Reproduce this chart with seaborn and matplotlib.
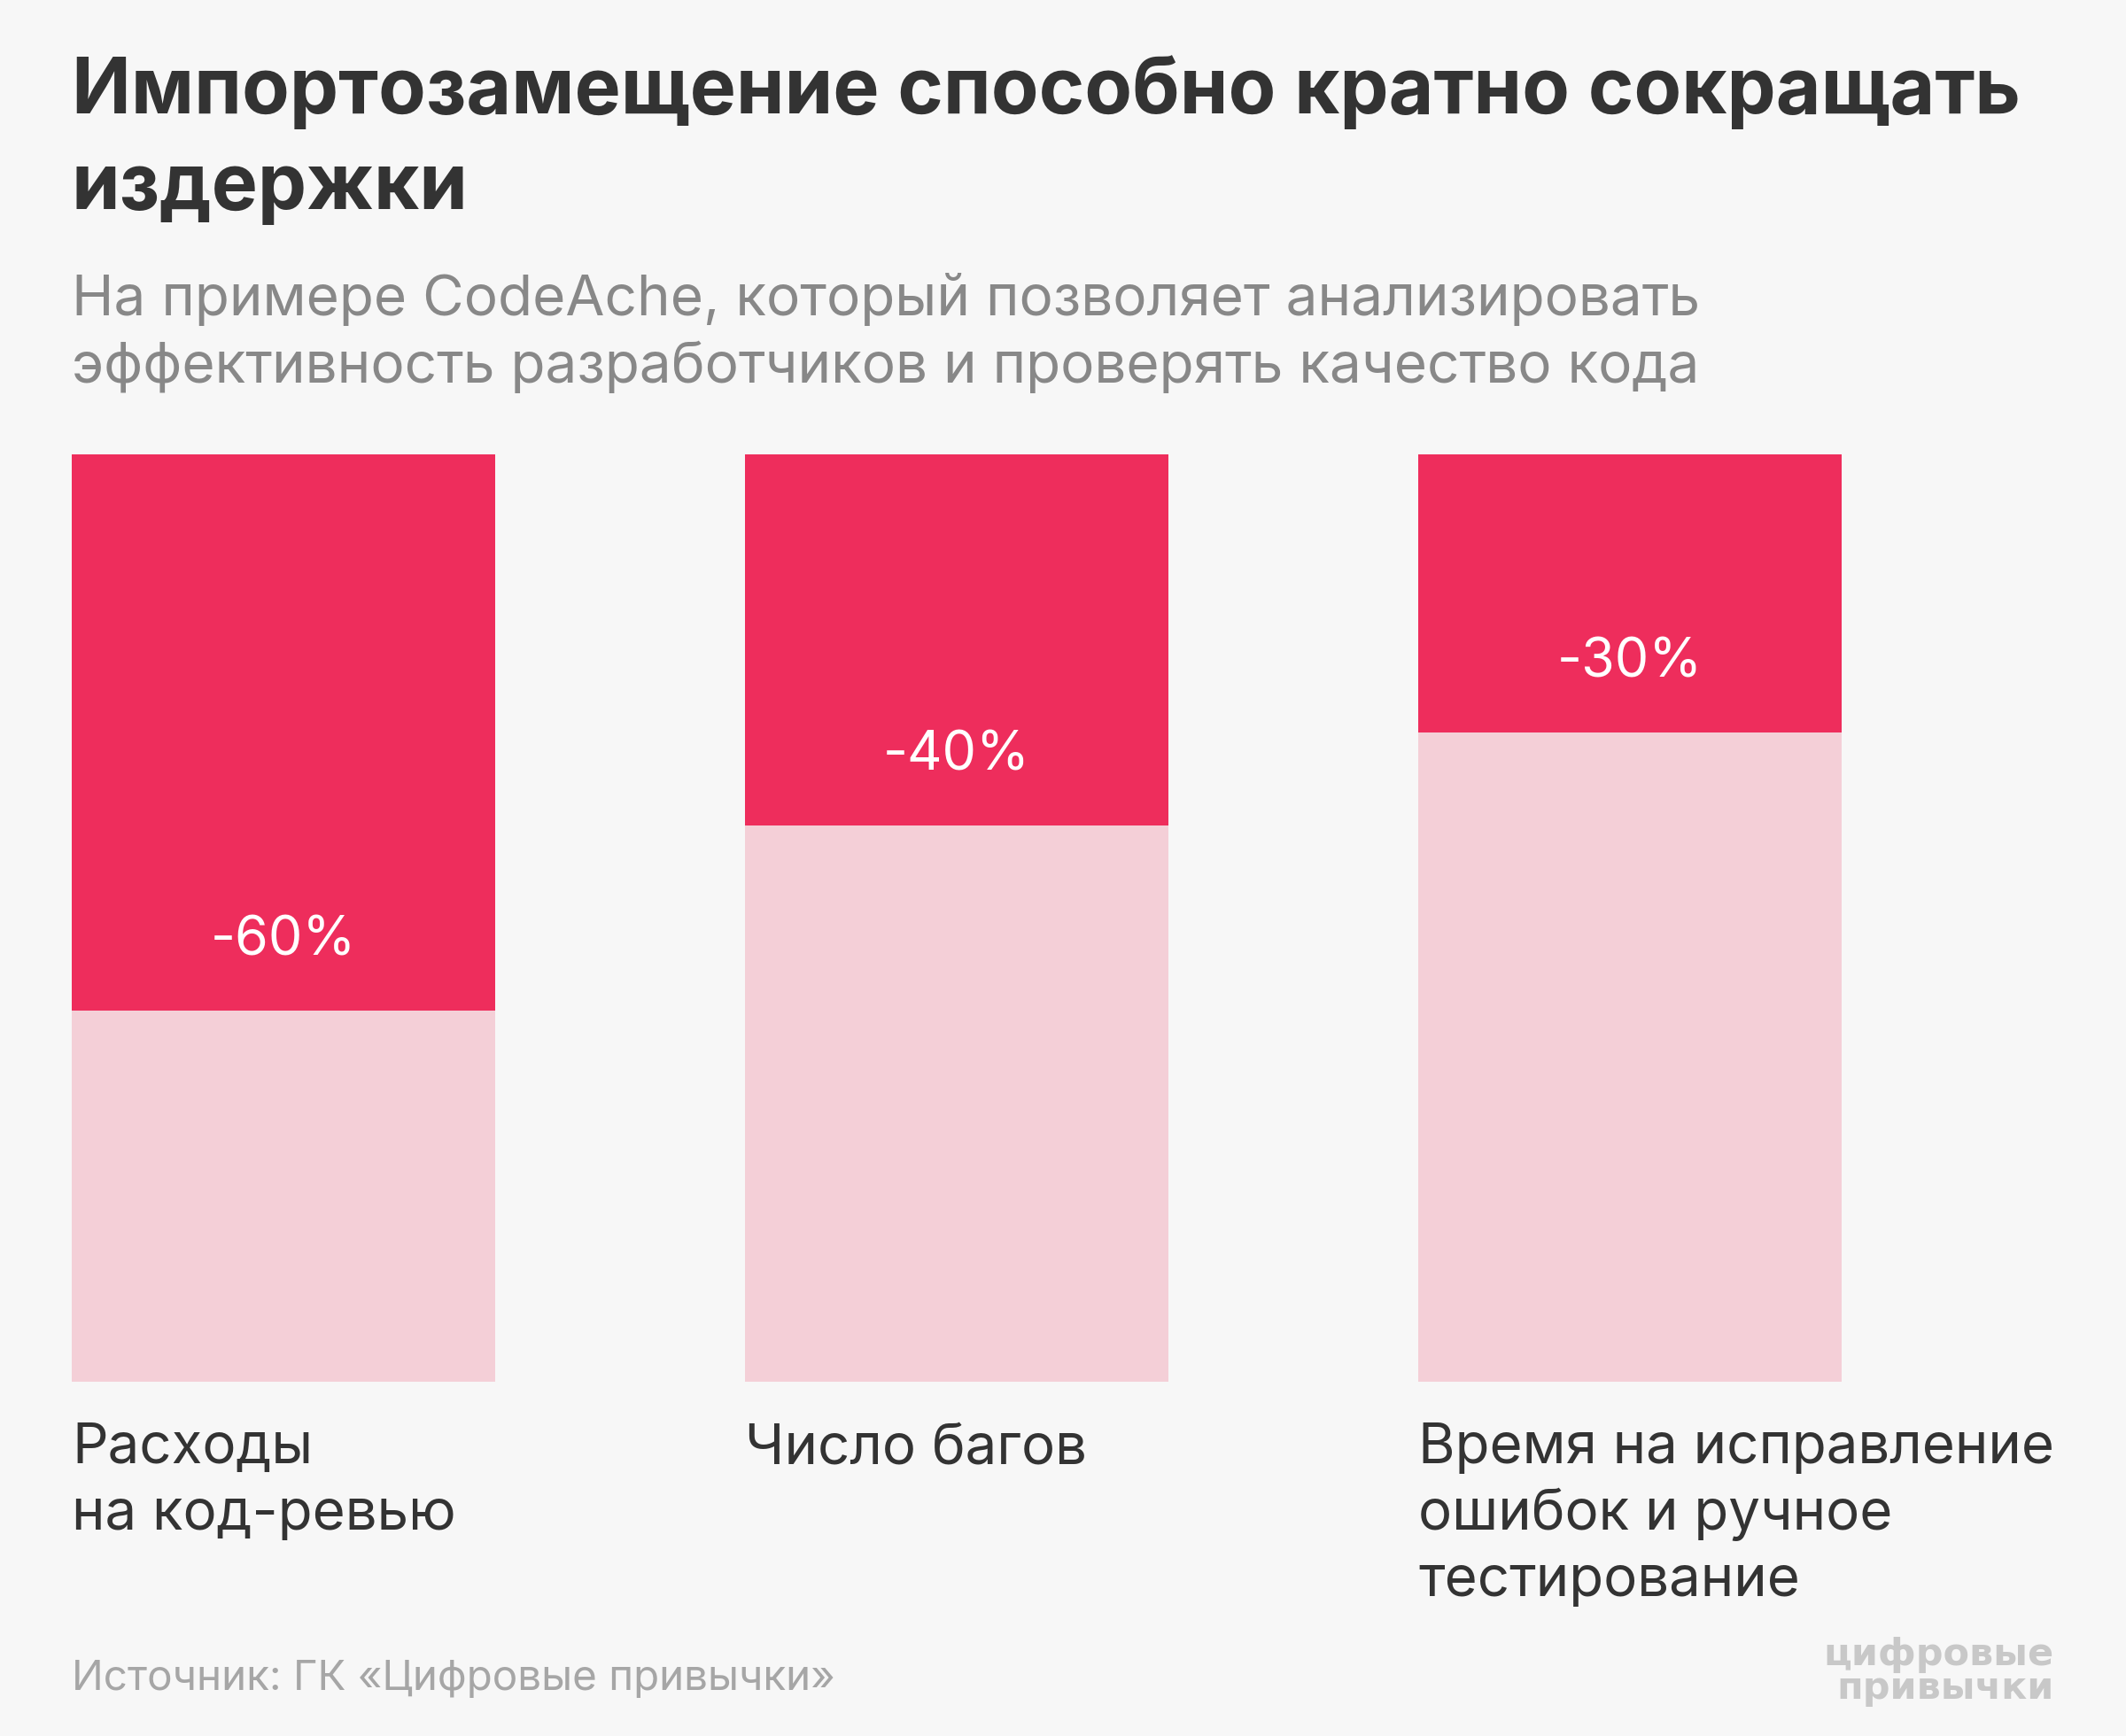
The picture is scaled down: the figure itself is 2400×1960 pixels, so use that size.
import matplotlib
matplotlib.use("Agg")
import matplotlib.pyplot as plt
import matplotlib.transforms as mtransforms
import seaborn as sns
import pandas as pd

# ---- data ----
categories = ["Расходы\nна код-ревью", "Число багов",
              "Время на исправление\nошибок и ручное\nтестирование"]
reduction = [60, 40, 30]          # % reduction
baseline_total = [100, 100, 100]  # full level before
pct_labels = ["-60%", "-40%", "-30%"]

title = "Импортозамещение способно кратно сокращать\nиздержки"
subtitle = ("На примере CodeAche, который позволяет анализировать\n"
            "эффективность разработчиков и проверять качество кода")
source = "Источник: ГК «Цифровые привычки»"
logo = "цифровые\nпривычки"

BG = "#f7f7f7"
DARK = "#ee2d5c"
LIGHT = "#f4cfd7"
TXT = "#333333"
SUB = "#888888"

sns.set_theme(style="white")
plt.rcParams["font.family"] = ["Inter", "DejaVu Sans"]

W, H, DPI = 2400, 1960, 200
fig = plt.figure(figsize=(W / DPI, H / DPI), dpi=DPI, facecolor=BG)

ax_left, ax_right, ax_top, ax_bot = 81, 2079, 513, 1560
ax = fig.add_axes([ax_left / W, 1 - ax_bot / H, (ax_right - ax_left) / W, (ax_bot - ax_top) / H])
ax.set_facecolor(BG)

df = pd.DataFrame({
    "cat": categories,
    "total": baseline_total,
    "remain": [t - r for t, r in zip(baseline_total, reduction)],
})
bw = 0.629
sns.barplot(data=df, x="cat", y="total", color=DARK, width=bw, saturation=1,
            edgecolor="none", linewidth=0, ax=ax)
sns.barplot(data=df, x="cat", y="remain", color=LIGHT, width=bw, saturation=1,
            edgecolor="none", linewidth=0, ax=ax)

ax.set_xlim(-bw / 2, -bw / 2 + (ax_right - ax_left) / 760)
ax.set_ylim(0, 100)
ax.set_xticks([])
ax.set_yticks([])
ax.set_xlabel("")
ax.set_ylabel("")
for s in ax.spines.values():
    s.set_visible(False)

# percentage labels inside the dark part
for i, (r, t) in enumerate(zip(reduction, pct_labels)):
    ax.text(i, 100 - r + 7.5, t, ha="center", va="center", color="white",
            fontsize=22)


def fig_y(px):
    return 1 - px / H


# category labels below bars (each line at a fixed baseline)
trans = mtransforms.blended_transform_factory(ax.transData, fig.transFigure)
for i, c in enumerate(categories):
    for j, line in enumerate(c.split("\n")):
        ax.text(i - bw / 2, fig_y(1652 + 75 * j), line, ha="left", va="baseline",
                color=TXT, fontsize=22.9, transform=trans, clip_on=False)

# title / subtitle
for j, line in enumerate(title.split("\n")):
    fig.text(81 / W, fig_y(128 + 108 * j), line, ha="left", va="baseline",
             color=TXT, fontsize=31.6, fontweight="bold")
for j, line in enumerate(subtitle.split("\n")):
    fig.text(81 / W, fig_y(356 + 76 * j), line, ha="left", va="baseline",
             color=SUB, fontsize=23)

# source
fig.text(81 / W, fig_y(1908), source, ha="left", va="baseline", color="#a6a6a6",
         fontsize=17.15)

# logo
for j, line in enumerate(logo.split("\n")):
    fig.text(2319 / W, fig_y(1880 + 38 * j), line, ha="right", va="baseline",
             color="#c8c8c8", fontsize=15.5, fontweight="bold",
             family=["DejaVu Sans"])

fig.savefig("out.png", dpi=DPI, facecolor=BG)
